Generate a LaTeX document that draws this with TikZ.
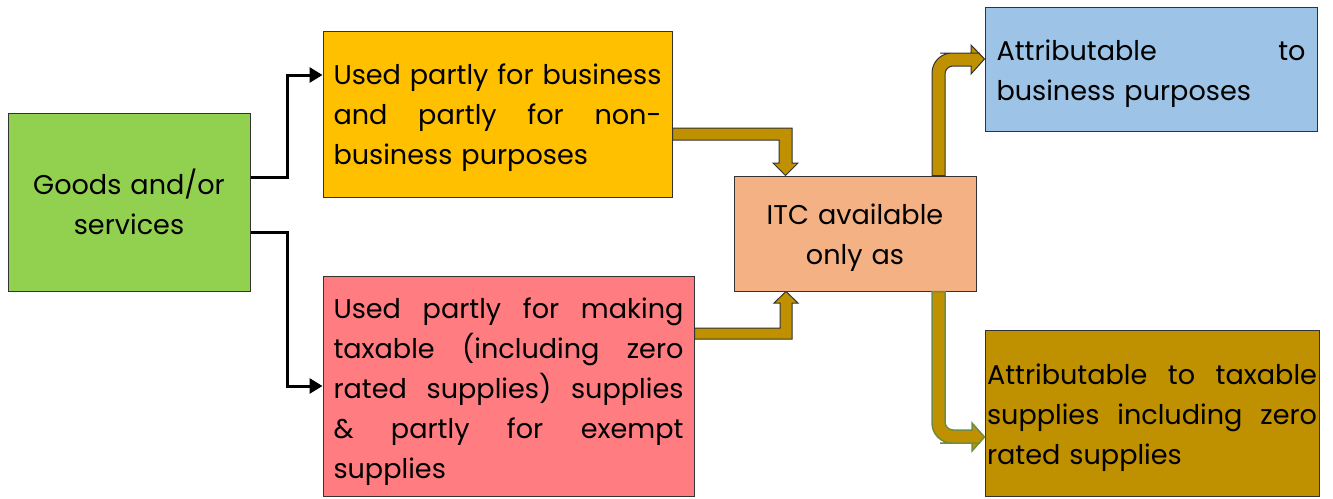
\documentclass[tikz,border=0pt]{standalone}
\usepackage{fontspec}
\setmainfont{Poppins}
\usetikzlibrary{arrows.meta,calc}
\definecolor{cgreen}{HTML}{92D050}
\definecolor{corange}{HTML}{FFC000}
\definecolor{cred}{HTML}{FF7C80}
\definecolor{csalmon}{HTML}{F4B183}
\definecolor{cblue}{HTML}{9DC3E6}
\definecolor{cgold}{HTML}{BF9000}
\definecolor{colive}{RGB}{112,140,62}
\newcommand\jl[1]{\makebox[\hsize][s]{\spaceskip=\fontdimen2\font plus 1fil\relax #1}}
\newcommand\tp[1]{\rule{0pt}{#1}}
\begin{document}
\begin{tikzpicture}[x=0.5pt,y=-0.5pt,
  box/.style={draw=black!80,line width=0.5pt,inner ysep=0pt,
    font=\fontsize{13.55}{20}\selectfont},
  conn/.style={draw=black,line width=1.5pt,-{Triangle[length=6.5pt,width=7.5pt]}},
  barrow/.style={fill=cgold,draw=black!80,line width=0.5pt,line join=miter},
]
\useasboundingbox (0,0) rectangle (1333,498);

\node[box,fill=cgreen,minimum width=121pt,minimum height=89pt,
  inner xsep=0pt,text width=121pt,align=center] (goods) at (129,202)
  {Goods and/or\\services};

\node[box,fill=corange,minimum width=174.5pt,minimum height=83pt,
  inner xsep=5.25pt,text width=164pt,align=left] (biz) at (497.5,114)
  {\jl{\tp{14pt}Used partly for business}\\\jl{and partly for non-}\\business purposes};

\node[box,fill=cred,minimum width=185.5pt,minimum height=110pt,
  inner xsep=5.25pt,text width=175pt,align=left] (tax) at (508.5,386)
  {\jl{\tp{16pt}Used partly for making}\\\jl{taxable (including zero}\\\jl{rated supplies) supplies}\\\jl{\& partly for exempt}\\supplies};

\node[box,fill=csalmon,minimum width=121pt,minimum height=57.5pt,
  inner xsep=0pt,text width=121pt,align=center] (itc) at (855,233.5)
  {\tp{14pt}ITC available\\only as};

\node[box,fill=cblue,minimum width=166pt,minimum height=62pt,
  inner xsep=5.75pt,text width=154.5pt,align=left] (attb) at (1151,69)
  {\jl{\tp{15pt}Attributable to}\\business purposes};

\node[box,fill=cgold,minimum width=167pt,minimum height=83pt,
  inner xsep=1pt,text width=165pt,align=left] (attt) at (1152,413)
  {\jl{\tp{15pt}Attributable to taxable}\\\jl{supplies including zero}\\rated supplies};

% black connectors
\draw[conn] ([yshift=12.5pt]goods.east) -- ++(37,0) |- ([yshift=19.5pt]biz.west);
\draw[conn] ([yshift=-15pt]goods.east) -- ++(37,0) |- (tax.west);

% block arrow: business -> ITC
\path[barrow] (biz.east |- 0,128) -- (792,128) -- (792,163) -- (798,163)
  -- (785.5,0 |- itc.north) -- (773,163) -- (779,163) -- (779,140)
  -- (biz.east |- 0,140) -- cycle;

% block arrow: taxable -> ITC
\path[barrow] (tax.east |- 0,339) -- (792,339) -- (792,303) -- (798,303)
  -- (786,0 |- itc.south) -- (774,303) -- (780,303) -- (780,328)
  -- (tax.east |- 0,328) -- cycle;

% block arrow: ITC -> business purposes
\path[barrow] (932,0 |- itc.north) -- (932,110) [rounded corners=10pt] -- (932,53)
  -- (960,53) [sharp corners] -- (971,53) -- (971,45) -- (attb.west |- 0,59)
  -- (971,74) -- (971,66) -- (960,66) [rounded corners=4pt] -- (945,66)
  -- (945,110) [sharp corners] -- (945,0 |- itc.north) -- cycle;

% block arrow: ITC -> taxable supplies
\path[barrow,draw=colive,line width=0.75pt] (932,0 |- itc.south) -- (932,370) [rounded corners=10pt] -- (932,443)
  -- (960,443) [sharp corners] -- (972,443) -- (972,451) -- (attt.west |- 0,437)
  -- (972,423) -- (972,430) -- (960,430) [rounded corners=4pt] -- (945,430)
  -- (945,370) [sharp corners] -- (945,0 |- itc.south) -- cycle;
\end{tikzpicture}
\end{document}
